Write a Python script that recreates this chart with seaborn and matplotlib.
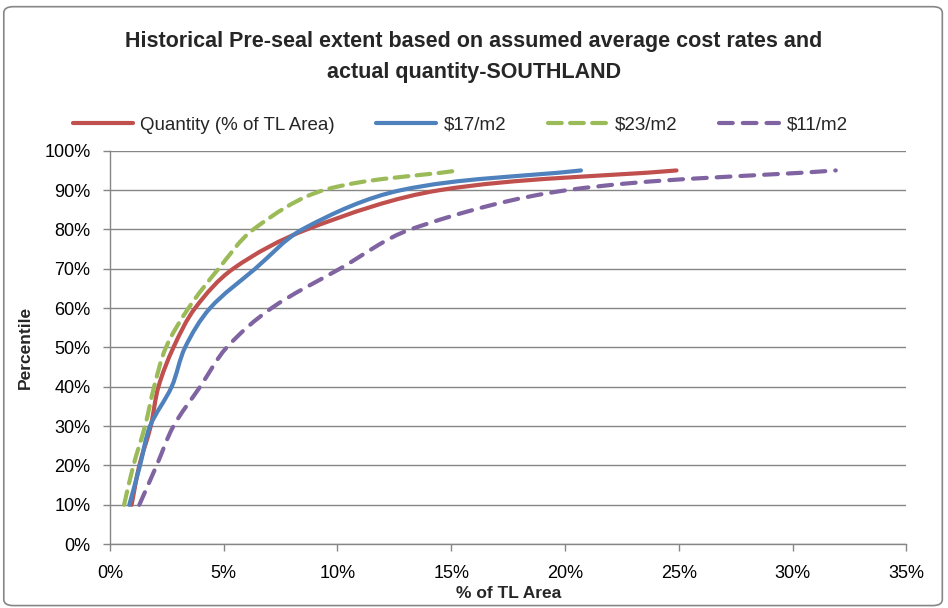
import matplotlib
matplotlib.use("Agg")
import matplotlib.pyplot as plt
import seaborn as sns
import numpy as np
import pandas as pd
from matplotlib.patches import FancyBboxPatch, PathPatch
from matplotlib.path import Path
from matplotlib.ticker import FuncFormatter

# Percentile levels shared by all series
percentile = [10, 20, 30, 40, 50, 60, 70, 80, 90, 95]

# % of TL Area at each percentile
quantity = [0.95, 1.29, 1.79, 2.13, 2.79, 3.74, 5.41, 8.65, 14.5, 24.9]
rate_17 = [0.85, 1.32, 1.76, 2.71, 3.3, 4.4, 6.38, 8.45, 12.8, 20.7]
rate_23 = [0.62, 1.03, 1.54, 1.94, 2.46, 3.45, 4.77, 6.3, 9.4, 15.3]
rate_11 = [1.29, 2.05, 2.79, 3.96, 5.13, 7.1, 10.1, 13.2, 20.1, 31.9]

series_names = ["Quantity (% of TL Area)", "$17/m2", "$23/m2", "$11/m2"]
series_values = [quantity, rate_17, rate_23, rate_11]

x_ticks = [0, 5, 10, 15, 20, 25, 30, 35]
y_ticks = [0, 10, 20, 30, 40, 50, 60, 70, 80, 90, 100]

df = pd.concat(
    [pd.DataFrame({"area": v, "pct": percentile, "series": n})
     for n, v in zip(series_names, series_values)],
    ignore_index=True,
)

sns.set_theme(style="white")
plt.rcParams["font.family"] = ["Liberation Sans", "DejaVu Sans"]

fig = plt.figure(figsize=(9.48, 6.08), dpi=100)
ax = fig.add_axes([0.116, 0.105, 0.84, 0.647])

palette = {
    "Quantity (% of TL Area)": "#C0504D",
    "$17/m2": "#4F81BD",
    "$23/m2": "#9BBB59",
    "$11/m2": "#8064A2",
}
dashes = {
    "Quantity (% of TL Area)": "",
    "$17/m2": "",
    "$23/m2": (3.3, 2.0),
    "$11/m2": (3.3, 2.4),
}

sns.lineplot(
    data=df, x="area", y="pct", hue="series", style="series",
    palette=palette, dashes=dashes, sort=False, estimator=None,
    linewidth=3, ax=ax, legend=True,
)

ax.set_xlim(0, 35)
ax.set_ylim(0, 100)


def smooth_path(xs, ys, trans):
    """Cubic Bezier path through the points, tangents weighted by on-screen segment length."""
    pts = trans.transform(np.column_stack([xs, ys]))
    n = len(pts)
    c_out, c_in = [None] * n, [None] * n
    for i in range(n):
        prev_p = pts[i - 1] if i > 0 else pts[i]
        next_p = pts[i + 1] if i < n - 1 else pts[i]
        tangent = next_p - prev_p
        d1 = np.hypot(*(pts[i] - prev_p))
        d2 = np.hypot(*(next_p - pts[i]))
        total = d1 + d2
        c_out[i] = pts[i] + tangent * (d2 / total) / 3
        c_in[i] = pts[i] - tangent * (d1 / total) / 3
    verts = [pts[0]]
    codes = [Path.MOVETO]
    for i in range(n - 1):
        verts += [c_out[i], c_in[i + 1], pts[i + 1]]
        codes += [Path.CURVE4] * 3
    verts = trans.inverted().transform(np.array(verts))
    return Path(verts, codes)


# Replace the straight segments with smoothed curves through the same points
for line, name, vals in zip(ax.get_lines()[:4], series_names, series_values):
    line.set_visible(False)
    patch = PathPatch(
        smooth_path(vals, percentile, ax.transData), fill=False,
        edgecolor=palette[name], linewidth=3,
        linestyle=(0, dashes[name]) if dashes[name] else "-",
        capstyle="round", joinstyle="round",
    )
    ax.add_patch(patch)

ax.set_xlim(0, 35)
ax.set_ylim(0, 100)
ax.set_xticks(x_ticks)
ax.set_yticks(y_ticks)
ax.xaxis.set_major_formatter(FuncFormatter(lambda v, p: f"{v:.0f}%"))
ax.yaxis.set_major_formatter(FuncFormatter(lambda v, p: f"{v:.0f}%"))
ax.tick_params(axis="both", labelsize=13, colors="#000000", length=5,
               width=1, direction="out", color="#868686")
ax.tick_params(axis="x", pad=10)
ax.tick_params(axis="y", pad=9)
ax.tick_params(axis="both", which="both", left=True, bottom=True)

ax.yaxis.grid(True, color="#868686", linewidth=1)
ax.xaxis.grid(False)
ax.set_axisbelow(True)
for side in ["top", "right"]:
    ax.spines[side].set_visible(False)
for side in ["left", "bottom"]:
    ax.spines[side].set_color("#868686")
    ax.spines[side].set_linewidth(1)

ax.set_xlabel("% of TL Area", fontsize=12.5, fontweight="bold", labelpad=3)
ax.set_ylabel("Percentile", fontsize=12.5, fontweight="bold", labelpad=8)

handles, labels = ax.get_legend_handles_labels()
for h in handles:
    h.set_solid_capstyle("round")
    h.set_dash_capstyle("round")
ax.legend(
    handles, labels, loc="lower center", bbox_to_anchor=(0.44, 1.0),
    ncol=4, frameon=False, fontsize=13.5, handlelength=3.2,
    columnspacing=2.2, handletextpad=0.4,
)

fig.text(0.5, 0.931, "Historical Pre-seal extent based on assumed average cost rates and",
         ha="center", va="center", fontsize=15.5, fontweight="bold")
fig.text(0.5, 0.881, "actual quantity-SOUTHLAND",
         ha="center", va="center", fontsize=15.5, fontweight="bold")

# Chart-area border
border = FancyBboxPatch((0.004, 0.004), 0.99, 0.985, boxstyle="round,pad=0,rounding_size=0.01",
                        transform=fig.transFigure, fill=False, edgecolor="#868686",
                        linewidth=1.2)
fig.patches.append(border)

fig.savefig("out.png", dpi=100)
